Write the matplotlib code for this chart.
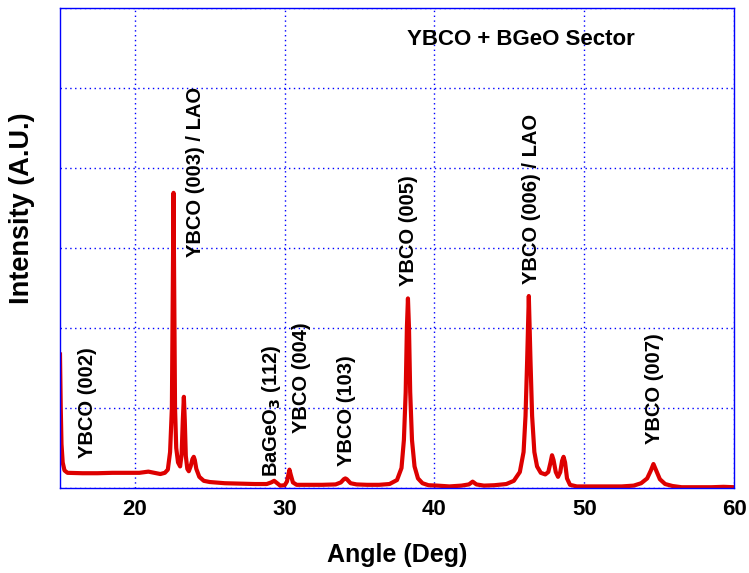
import matplotlib.pyplot as plt

plt.rcParams['font.family'] = ['Liberation Sans', 'DejaVu Sans']
plt.rcParams['font.weight'] = 'bold'

# XRD scan (angle in deg, intensity in arbitrary units)
angle = [15.00, 15.05, 15.10, 15.18, 15.30, 15.50, 16.5, 17.5, 18.5, 19.5,
         20.3, 20.9, 21.3, 21.7, 22.0, 22.2, 22.35, 22.47, 22.52, 22.58,
         22.63, 22.68, 22.76, 22.88, 23.02, 23.12, 23.20, 23.27, 23.33, 23.40,
         23.50, 23.60, 23.72, 23.84, 23.93, 24.00, 24.10, 24.30, 24.60, 25.0,
         26.0, 27.0, 28.0, 28.8, 29.1, 29.3, 29.5, 29.7, 30.0, 30.15,
         30.25, 30.32, 30.40, 30.55, 30.8, 31.5, 32.5, 33.4, 33.75, 33.95,
         34.05, 34.15, 34.4, 34.8, 35.5, 36.3, 37.0, 37.5, 37.8, 37.96,
         38.08, 38.16, 38.23, 38.30, 38.38, 38.50, 38.67, 38.9, 39.2, 39.6,
         40.2, 41.0, 41.8, 42.3, 42.55, 42.8, 43.3, 44.0, 44.8, 45.3,
         45.7, 45.95, 46.08, 46.19, 46.30, 46.41, 46.52, 46.67, 46.85, 47.1,
         47.4, 47.6, 47.75, 47.85, 47.95, 48.1, 48.25, 48.4, 48.52, 48.62,
         48.72, 48.85, 49.05, 49.5, 50.5, 51.5, 52.5, 53.3, 53.8, 54.2,
         54.45, 54.62, 54.8, 55.05, 55.4, 55.9, 56.5, 57.5, 58.5, 59.3, 60.0]
intensity = [1.67, 1.00, 0.55, 0.32, 0.22, 0.19, 0.185, 0.185, 0.19, 0.19,
             0.19, 0.205, 0.19, 0.175, 0.19, 0.23, 0.45, 1.0, 2.3, 3.69,
             2.3, 1.0, 0.5, 0.32, 0.27, 0.42, 0.85, 1.14, 0.85, 0.4,
             0.24, 0.21, 0.27, 0.36, 0.39, 0.35, 0.24, 0.14, 0.09, 0.075,
             0.06, 0.055, 0.05, 0.05, 0.07, 0.09, 0.06, 0.03, 0.035, 0.08,
             0.17, 0.23, 0.17, 0.07, 0.04, 0.04, 0.04, 0.045, 0.07, 0.11,
             0.12, 0.11, 0.06, 0.045, 0.04, 0.04, 0.05, 0.10, 0.25, 0.6,
             1.2, 2.0, 2.37, 2.0, 1.2, 0.6, 0.27, 0.12, 0.06, 0.035,
             0.03, 0.02, 0.03, 0.045, 0.08, 0.045, 0.03, 0.035, 0.05, 0.09,
             0.2, 0.45, 0.9, 1.6, 2.4, 1.6, 0.9, 0.45, 0.27, 0.19,
             0.17, 0.2, 0.32, 0.41, 0.35, 0.2, 0.14, 0.2, 0.34, 0.39,
             0.32, 0.12, 0.04, 0.02, 0.02, 0.02, 0.02, 0.03, 0.06, 0.12,
             0.22, 0.30, 0.22, 0.11, 0.05, 0.025, 0.01, 0.01, 0.01, 0.015, 0.01]

# peak labels: text, x position, bottom of text
peak_labels = ['YBCO (002)', 'YBCO (003) / LAO', r'BaGeO$_3$ (112)', 'YBCO (004)',
               'YBCO (103)', 'YBCO (005)', 'YBCO (006) / LAO', 'YBCO (007)']
label_x = [16.84, 24.05, 29.1, 31.1, 34.15, 38.3, 46.46, 54.68]
label_y = [0.37, 2.89, 0.14, 0.69, 0.27, 2.53, 2.55, 0.55]

fig = plt.figure(figsize=(7.49, 5.73), dpi=100)
ax = fig.add_axes([0.0801, 0.1483, 0.8999, 0.8377])

ax.plot(angle, intensity, color='#dd0000', linewidth=3.0)

for txt, xx, yy in zip(peak_labels, label_x, label_y):
    ax.text(xx, yy, txt, rotation=90, ha='center', va='bottom',
            fontsize=14.5, fontweight='bold')

ax.text(45.8, 5.61, 'YBCO + BGeO Sector', ha='center', va='center',
        fontsize=16, fontweight='bold')

ax.set_xlim(15, 60)
ax.set_ylim(0, 6)
ax.set_xticks([20, 30, 40, 50, 60])
ax.set_yticks([0, 1, 2, 3, 4, 5, 6])
ax.set_yticklabels([])
ax.tick_params(axis='both', length=0)
ax.tick_params(axis='x', labelsize=16, pad=8)
for lab in ax.get_xticklabels():
    lab.set_fontweight('bold')

for sp in ax.spines.values():
    sp.set_color('blue')
    sp.set_linewidth(1.0)
ax.grid(True, color='blue', linestyle=(0, (1, 2.5)), linewidth=1.0)

ax.set_xlabel('Angle (Deg)', fontsize=18, fontweight='bold')
ax.xaxis.set_label_coords(0.5, -0.115)
ax.set_ylabel('Intensity (A.U.)', fontsize=19.5, fontweight='bold')
ax.yaxis.set_label_coords(-0.037, 0.583)

fig.savefig('out.png', dpi=100)
